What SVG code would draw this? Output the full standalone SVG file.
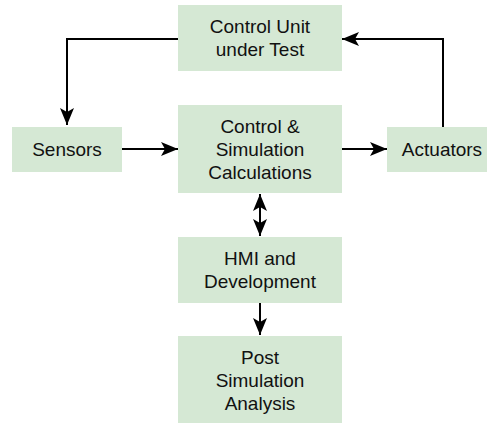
<svg xmlns="http://www.w3.org/2000/svg" width="487" height="423" viewBox="0 0 487 423">
<style>
.box{fill:#d5e8d4;stroke:none}
.lbl{font-family:"Liberation Sans",Arial,sans-serif;font-size:19px;fill:#111;text-anchor:middle}
.edge{fill:none;stroke:#000;stroke-width:2}
</style>
<defs>
<marker id="ah" viewBox="-18 -8 20 16" refX="0" refY="0" markerWidth="20" markerHeight="16" markerUnits="userSpaceOnUse" orient="auto-start-reverse">
<path d="M0,0 L-17,-7 L-13,0 L-17,7 Z" fill="#000"/>
</marker>
</defs>
<rect width="487" height="423" fill="#fff"/>
<g id="cut"><rect class="box" x="178" y="5" width="164" height="66"/><text class="lbl" x="260" y="33.3">Control Unit</text><text class="lbl" x="260" y="56.3">under Test</text></g>
<g id="sensors"><rect class="box" x="12" y="127" width="110" height="45"/><text class="lbl" x="67" y="156">Sensors</text></g>
<g id="calc"><rect class="box" x="178" y="105" width="164" height="88"/><text class="lbl" x="260" y="132.8">Control &amp;</text><text class="lbl" x="260" y="155.8">Simulation</text><text class="lbl" x="260" y="178.8">Calculations</text></g>
<g id="actuators"><rect class="box" x="387" y="127" width="110" height="45"/><text class="lbl" x="442" y="156">Actuators</text></g>
<g id="hmi"><rect class="box" x="178" y="237" width="164" height="66"/><text class="lbl" x="260" y="265.3">HMI and</text><text class="lbl" x="260" y="288.3">Development</text></g>
<g id="post"><rect class="box" x="178" y="336" width="164" height="88"/><text class="lbl" x="260" y="364">Post</text><text class="lbl" x="260" y="387">Simulation</text><text class="lbl" x="260" y="410">Analysis</text></g>
<g id="connectors">
<path class="edge" d="M178,39 H67 V125" marker-end="url(#ah)"/>
<path class="edge" d="M443,127 V39 H342" marker-end="url(#ah)"/>
<path class="edge" d="M122,149 H178" marker-end="url(#ah)"/>
<path class="edge" d="M342,149 H387" marker-end="url(#ah)"/>
<path class="edge" d="M260,194 V236" marker-start="url(#ah)" marker-end="url(#ah)"/>
<path class="edge" d="M260,303 V335" marker-end="url(#ah)"/>
</g>
</svg>
